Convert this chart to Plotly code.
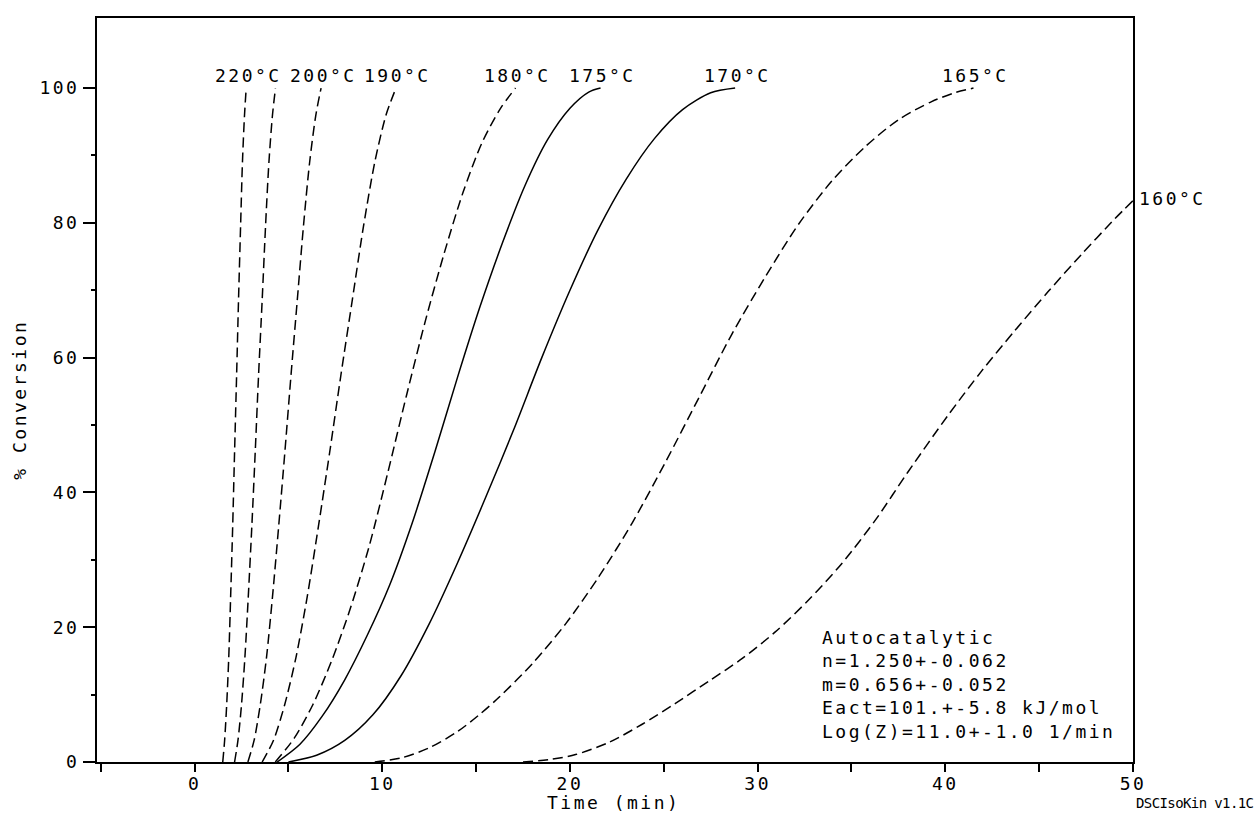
import plotly.graph_objects as go

# ---- data ----
t220 = [1.5, 1.6, 1.71, 1.82, 1.92, 2.03, 2.13, 2.24, 2.34, 2.45, 2.55, 2.66, 2.75]
c220 = [0, 3.2, 8.5, 15.5, 24.5, 35, 46, 57.5, 68.5, 79.5, 89, 96, 100]

t210 = [2.13, 2.31, 2.5, 2.68, 2.86, 3.05, 3.23, 3.41, 3.6, 3.78, 3.96, 4.15, 4.31]
c210 = [0, 3.2, 8.5, 15.5, 24.5, 35, 46, 57.5, 68.5, 79.5, 89, 96, 100]

t200 = [2.84, 3.17, 3.5, 3.83, 4.15, 4.48, 4.81, 5.14, 5.47, 5.8, 6.13, 6.46, 6.74]
c200 = [0, 3.2, 8.5, 15.5, 24.5, 35, 46, 57.5, 68.5, 79.5, 89, 96, 100]

t190 = [3.6, 4.2, 4.8, 5.4, 6.0, 6.6, 7.2, 7.8, 8.4, 9.0, 9.6, 10.2, 10.73]
c190 = [0, 3.2, 8.5, 15.5, 24.5, 35, 46, 57.5, 68.5, 79.5, 89, 96, 100]

t180 = [4.3, 5.3, 6.3, 7.3, 8.3, 9.3, 10.3, 11.3, 12.3, 13.3, 14.3, 15.3, 16.3, 17.1]
c180 = [0, 3.5, 8.5, 15.0, 22.8, 32, 43, 54.5, 65.5, 75.5, 84.5, 91.8, 97, 100]

t175 = [4.4, 5.6, 6.8, 8.0, 9.2, 10.4, 11.6, 12.8, 14.0, 15.2, 16.4, 17.6, 18.8, 20.0, 21.0, 21.63]
c175 = [0, 2.6, 6.8, 12.2, 18.8, 26.3, 35.5, 46, 57, 67.5, 77, 85.5, 92.3, 97, 99.4, 100]

t170 = [5.0, 6.5, 8.0, 9.5, 11.0, 12.5, 14.0, 15.5, 17.0, 18.5, 20.0, 21.5, 23.0,
        24.5, 26.0, 27.5, 28.8]
c170 = [0, 1.0, 3.2, 7.0, 12.8, 20.5, 29.5, 39.2, 49.3, 60, 70, 79, 86.5,
        92.5, 96.8, 99.3, 100]

t165 = [9.6, 11.0, 12.5, 14.0, 15.16, 16.22, 18.0, 19.77, 21.54, 23.32, 25.09, 26.86,
        28.63, 30.41, 32.18, 33.95, 35.73, 37.5, 39.27, 40.5, 41.5]
c165 = [0, 0.6, 2.1, 4.5, 7.0, 9.6, 14.6, 20.5, 27.5, 35.5, 44.5, 54,
        63.5, 72, 79.8, 86.2, 91.3, 95.3, 98.0, 99.3, 100]

t160 = [17.5, 19.0, 20.3, 22.07, 23.85, 25.62, 27.4, 29.2, 30.94, 32.7, 34.5, 36.3, 38.0,
        40.16, 41.93, 43.7, 45.48, 47.25, 49.03, 50.0]
c160 = [0, 0.4, 1.1, 2.9, 5.6, 8.7, 12.0, 15.4, 19.3, 24, 29.5, 36, 43,
        51.5, 58, 64, 69.8, 75.3, 80.6, 83.3]

series_t = [t220, t210, t200, t190, t180, t175, t170, t165, t160]
series_c = [c220, c210, c200, c190, c180, c175, c170, c165, c160]
labels = ["220°C", "", "200°C", "190°C", "180°C", "175°C", "170°C", "165°C", "160°C"]
dashes = ["10px,5px", "10px,5px", "10px,5px", "10px,5px", "10px,5px",
          "solid", "solid", "10px,5px", "10px,5px"]

x_ticks = [0, 10, 20, 30, 40, 50]
y_ticks = [0, 20, 40, 60, 80, 100]

info_lines = ["Autocatalytic", "n=1.250+-0.062", "m=0.656+-0.052",
              "Eact=101.+-5.8 kJ/mol", "Log(Z)=11.0+-1.0 1/min"]

FONT = "DejaVu Sans Mono"
FS = 18
LS = 2.5


def sp(s, ls=LS):
    return '<span style="letter-spacing:%spx">%s</span>' % (ls, s)


fig = go.Figure()
for t, c, d in zip(series_t, series_c, dashes):
    fig.add_trace(go.Scatter(x=t, y=c, mode="lines",
                             line=dict(color="black", width=1.5, dash=d,
                                       shape="spline", smoothing=0.8),
                             showlegend=False, hoverinfo="skip"))

annotations = []
for t, c, lab in zip(series_t, series_c, labels):
    if not lab:
        continue
    if lab == "160°C":
        annotations.append(dict(x=t[-1], y=c[-1], text=sp(lab), showarrow=False,
                                xanchor="left", yanchor="middle", xshift=4, yshift=2,
                                font=dict(family=FONT, size=FS, color="black")))
    else:
        annotations.append(dict(x=t[-1], y=c[-1], text=sp(lab), showarrow=False,
                                xanchor="center", yanchor="bottom", yshift=0, xshift=2,
                                font=dict(family=FONT, size=FS, color="black")))

annotations.append(dict(x=33.3, y=20.3, text="<br>".join(sp(s) for s in info_lines),
                        showarrow=False, xanchor="left", yanchor="top", align="left",
                        font=dict(family=FONT, size=FS, color="black")))
annotations.append(dict(x=1.0, y=-0.055, xref="paper", yref="paper",
                        text=sp("DSCIsoKin v1.1C", -0.6), showarrow=False,
                        xanchor="left", yanchor="middle", xshift=1,
                        font=dict(family=FONT, size=14, color="black")))
# axis titles
annotations.append(dict(x=0.5, y=-0.055, xref="paper", yref="paper",
                        text=sp("Time (min)"), showarrow=False,
                        xanchor="center", yanchor="middle", xshift=-2,
                        font=dict(family=FONT, size=FS, color="black")))
annotations.append(dict(x=-0.0743, y=0.487, xref="paper", yref="paper",
                        text=sp("% Conversion"), showarrow=False, textangle=-90,
                        xanchor="center", yanchor="middle",
                        font=dict(family=FONT, size=FS, color="black")))

fig.update_layout(
    width=1256, height=820,
    margin=dict(l=97, r=123, t=18, b=58),
    paper_bgcolor="white", plot_bgcolor="white",
    font=dict(family=FONT, size=FS, color="black"),
    annotations=annotations,
    xaxis=dict(range=[-5.2, 50], tickvals=x_ticks, ticktext=[sp(str(v)) for v in x_ticks],
               ticks="outside", ticklen=8, tickwidth=1.5, tickcolor="black",
               ticklabelstandoff=-4,
               minor=dict(tickvals=[-5, 5, 15, 25, 35, 45], ticks="outside", ticklen=8,
                          tickwidth=1.5, tickcolor="black"),
               showline=True, linecolor="black", linewidth=2, mirror=True,
               showgrid=False, zeroline=False, automargin=False,
               tickfont=dict(family=FONT, size=FS)),
    yaxis=dict(range=[0, 110.4], tickvals=y_ticks, ticktext=[sp(str(v)) for v in y_ticks],
               ticks="outside", ticklen=12, tickwidth=1.5, tickcolor="black",
               minor=dict(tickvals=[10, 30, 50, 70, 90], ticks="outside", ticklen=4,
                          tickwidth=1.5, tickcolor="black"),
               showline=True, linecolor="black", linewidth=2, mirror=True,
               showgrid=False, zeroline=False, automargin=False,
               tickfont=dict(family=FONT, size=FS)),
)

fig.write_html("out.html")
